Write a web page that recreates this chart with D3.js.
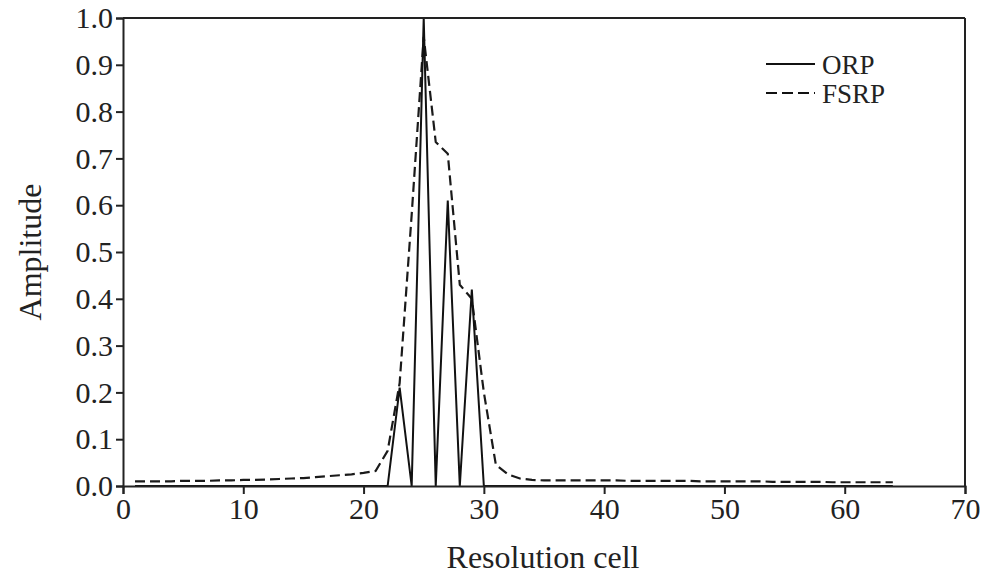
<!DOCTYPE html>
<html>
<head>
<meta charset="utf-8">
<script src="https://cdn.jsdelivr.net/npm/d3@7"></script>
<style>
  body { margin: 0; background: #fff; }
  svg { display: block; }
</style>
</head>
<body>
<div id="chart"></div>
<script>
// resolution cells 1..64
const cells = d3.range(1, 65);

// ORP amplitudes (solid line)
const orp = [
    0, 0, 0, 0, 0, 0, 0, 0, 0, 0,
    0, 0, 0, 0, 0, 0, 0, 0, 0, 0,
    0, 0, 0.21, 0, 1.0, 0, 0.61, 0, 0.42, 0,
    0, 0, 0, 0, 0, 0, 0, 0, 0, 0,
    0, 0, 0, 0, 0, 0, 0, 0, 0, 0,
    0, 0, 0, 0, 0, 0, 0, 0, 0, 0,
    0, 0, 0, 0
];

// FSRP amplitudes (dashed line)
const fsrp = [
    0.010, 0.010, 0.010, 0.010, 0.011, 0.011, 0.011, 0.012, 0.012, 0.013,
    0.013, 0.014, 0.015, 0.016, 0.017, 0.019, 0.021, 0.023, 0.025, 0.028,
    0.032, 0.075, 0.22, 0.58, 0.96, 0.735, 0.71, 0.43, 0.40, 0.20,
    0.045, 0.025, 0.016, 0.013, 0.012, 0.012, 0.012, 0.012, 0.012, 0.012,
    0.012, 0.011, 0.011, 0.011, 0.011, 0.011, 0.011, 0.010, 0.010, 0.010,
    0.010, 0.010, 0.010, 0.009, 0.009, 0.009, 0.009, 0.009, 0.008, 0.008,
    0.008, 0.008, 0.008, 0.008
];

const xTicks = [0, 10, 20, 30, 40, 50, 60, 70];
const yTicks = [0, 0.1, 0.2, 0.3, 0.4, 0.5, 0.6, 0.7, 0.8, 0.9, 1.0];
const seriesNames = ["ORP", "FSRP"];

const serif = "'Liberation Serif', 'Times New Roman', serif";
const W = 992, H = 578;
const margin = { top: 18, right: 27, bottom: 92, left: 123 },
      width = W - margin.left - margin.right,
      height = H - margin.top - margin.bottom;

const svg = d3.select("#chart").append("svg")
    .attr("width", W)
    .attr("height", H);

const g = svg.append("g")
    .attr("transform", `translate(${margin.left},${margin.top})`);

const x = d3.scaleLinear().domain([0, 70]).range([0, width]);
const y = d3.scaleLinear().domain([0, 1]).range([height, 0]);

const line = d3.line()
    .x((d, i) => x(cells[i]))
    .y(d => y(d));

// data lines
g.append("path")
    .datum(fsrp)
    .attr("fill", "none")
    .attr("stroke", "#1a1a1a")
    .attr("stroke-width", 2.2)
    .attr("stroke-dasharray", "10,5")
    .attr("d", line);

g.append("path")
    .datum(orp)
    .attr("fill", "none")
    .attr("stroke", "#111")
    .attr("stroke-width", 2)
    .attr("d", line);

// frame top & right
g.append("line")
    .attr("x1", 0).attr("x2", width).attr("y1", 0).attr("y2", 0)
    .attr("stroke", "#222").attr("stroke-width", 2);
g.append("line")
    .attr("x1", width).attr("x2", width).attr("y1", 0).attr("y2", height)
    .attr("stroke", "#222").attr("stroke-width", 2);

// axes
const xAxis = g.append("g")
    .attr("transform", `translate(0,${height})`)
    .call(d3.axisBottom(x).tickValues(xTicks).tickSize(8).tickPadding(4).tickFormat(d3.format("d")));

const yAxis = g.append("g")
    .call(d3.axisLeft(y).tickValues(yTicks).tickSize(7).tickPadding(3).tickFormat(d3.format(".1f")));

[xAxis, yAxis].forEach(a => {
    a.attr("font-family", null).attr("font-size", null);
    a.selectAll(".domain").attr("stroke", "#222").attr("stroke-width", 2);
    a.selectAll(".tick line").attr("stroke", "#222").attr("stroke-width", 2);
    a.selectAll("text")
        .style("font-family", serif)
        .style("font-size", "30px")
        .style("fill", "#222");
});

// axis titles
svg.append("text")
    .attr("x", margin.left + x(35) - 1)
    .attr("y", 568)
    .attr("text-anchor", "middle")
    .style("font-family", serif)
    .style("font-size", "32px")
    .style("fill", "#222")
    .text("Resolution cell");

svg.append("text")
    .attr("transform", "translate(41,252) rotate(-90)")
    .attr("text-anchor", "middle")
    .style("font-family", serif)
    .style("font-size", "32px")
    .style("fill", "#222")
    .text("Amplitude");

// legend
const legend = svg.append("g").attr("transform", "translate(766,64)");
seriesNames.forEach((name, i) => {
    const row = legend.append("g").attr("transform", `translate(0,${i * 29})`);
    row.append("line")
        .attr("x1", 0).attr("x2", 49).attr("y1", 0).attr("y2", 0)
        .attr("stroke", "#111")
        .attr("stroke-width", 2.2)
        .attr("stroke-dasharray", i === 1 ? "11,5" : null);
    row.append("text")
        .attr("x", 56)
        .attr("y", 10)
        .style("font-family", serif)
        .style("font-size", "27px")
        .style("fill", "#222")
        .text(name);
});
</script>
</body>
</html>
